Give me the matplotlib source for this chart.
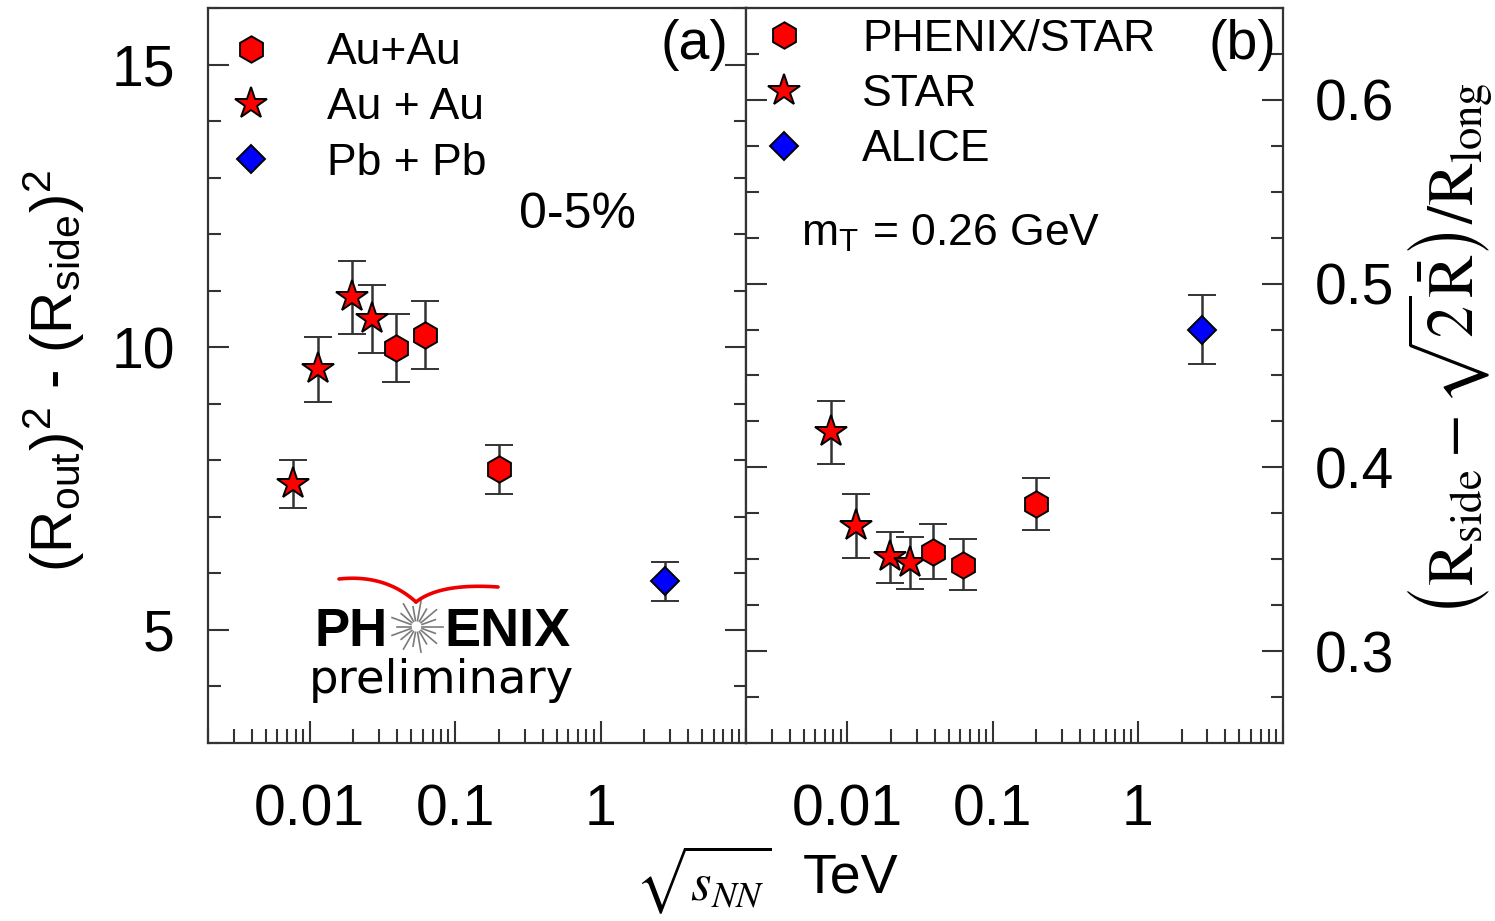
import numpy as np
import matplotlib
matplotlib.use("Agg")
import matplotlib.pyplot as plt
from matplotlib.lines import Line2D
from matplotlib.ticker import FixedLocator, FixedFormatter, NullFormatter, MultipleLocator

plt.rcParams['font.family'] = ['Liberation Sans', 'DejaVu Sans']
plt.rcParams['mathtext.fontset'] = 'custom'
plt.rcParams['mathtext.rm'] = 'STIXGeneral'
plt.rcParams['mathtext.it'] = 'STIXGeneral:italic'
plt.rcParams['mathtext.bf'] = 'STIXGeneral:bold'
plt.rcParams['mathtext.sf'] = 'Liberation Sans'
plt.rcParams['mathtext.fallback'] = 'stix'

# collision energy sqrt(s_NN) in TeV
snn_star = [0.0077, 0.0115, 0.0196, 0.027]
snn_phenix = [0.039, 0.0624, 0.2]
snn_alice = [2.76]

# panel (a): (R_out)^2 - (R_side)^2, 0-5% centrality
a_star = [7.58, 9.61, 10.88, 10.50]
a_star_err = [0.42, 0.57, 0.65, 0.60]
a_phenix = [9.98, 10.21, 7.84]
a_phenix_err = [0.60, 0.60, 0.43]
a_alice = [5.86]
a_alice_err = [0.35]

# panel (b): (R_side - sqrt(2) Rbar) / R_long, m_T = 0.26 GeV
b_star = [0.419, 0.368, 0.351, 0.348]
b_star_err = [0.017, 0.0175, 0.014, 0.014]
b_phenix = [0.354, 0.347, 0.380]
b_phenix_err = [0.015, 0.014, 0.014]
b_alice = [0.475]
b_alice_err = [0.019]

legend_a = ['Au+Au', 'Au + Au', 'Pb + Pb']
legend_b = ['PHENIX/STAR', 'STAR', 'ALICE']

x_major = [0.01, 0.1, 1, 10]
x_major_labels = ['0.01', '0.1', '1', '']

W, H = 1495, 921
fig = plt.figure(figsize=(W / 100, H / 100), dpi=100)


def fpos(px, py):
    return px / W, 1 - py / H


L, R, T, B, MID = 208, 1283, 8, 743, 746
axa = fig.add_axes([L / W, 1 - B / H, (MID - L) / W, (B - T) / H])
axb = fig.add_axes([MID / W, 1 - B / H, (R - MID) / W, (B - T) / H])

EC = '#333333'
hex_kw = dict(fmt='h', ms=19, mfc='#ff0000', mec='black', mew=1.4,
              ecolor=EC, elinewidth=1.8, capsize=10, capthick=1.8)
star_kw = dict(hex_kw, fmt='*', ms=24)
dia_kw = dict(hex_kw, fmt='D', ms=14, mfc='#0000ff')


def draw_panel(ax, star, star_err, phe, phe_err, ali, ali_err):
    ax.errorbar(snn_star, star, yerr=star_err, **star_kw)
    ax.errorbar(snn_phenix, phe, yerr=phe_err, **hex_kw)
    ax.errorbar(snn_alice, ali, yerr=ali_err, **dia_kw)
    ax.set_xscale('log')
    ax.set_xlim(0.002, 10)
    ax.xaxis.set_major_locator(FixedLocator(x_major))
    ax.xaxis.set_major_formatter(FixedFormatter(x_major_labels))
    ax.xaxis.set_minor_locator(FixedLocator(
        [m * 10.0 ** e for e in range(-3, 1) for m in range(2, 10)]))
    ax.xaxis.set_minor_formatter(NullFormatter())
    ax.tick_params(which='both', direction='in', top=False, right=True,
                   left=True, bottom=True, color=EC, width=1.5,
                   labelsize=41)
    ax.tick_params(axis='x', which='major', length=16, pad=29)
    ax.tick_params(axis='x', which='minor', length=10)
    ax.tick_params(axis='y', which='major', length=15)
    ax.tick_params(axis='y', which='minor', length=9)
    for s in ax.spines.values():
        s.set_linewidth(1.6)
        s.set_color(EC)


def legend_handles():
    return [Line2D([], [], ls='none', marker=k['fmt'], ms=k['ms'],
                   mfc=k['mfc'], mec='black', mew=1.4)
            for k in (hex_kw, star_kw, dia_kw)]


draw_panel(axa, a_star, a_star_err, a_phenix, a_phenix_err, a_alice, a_alice_err)
draw_panel(axb, b_star, b_star_err, b_phenix, b_phenix_err, b_alice, b_alice_err)

axa.set_ylim(3, 16)
axa.yaxis.set_major_locator(FixedLocator([5, 10, 15]))
axa.yaxis.set_minor_locator(MultipleLocator(1))
axa.tick_params(axis='y', pad=24)

axb.set_ylim(0.25, 0.65)
axb.yaxis.set_major_locator(FixedLocator([0.3, 0.4, 0.5, 0.6]))
axb.yaxis.set_minor_locator(MultipleLocator(0.025))
axb.tick_params(axis='y', labelleft=False, labelright=True, pad=23)

leg_kw = dict(loc='upper left', frameon=False, fontsize=32, handlelength=1.0,
              borderpad=0, borderaxespad=0, labelspacing=0.32)
axa.legend(legend_handles(), legend_a, bbox_to_anchor=(0.039, 0.967),
           handletextpad=1.2, **leg_kw)
axb.legend(legend_handles(), legend_b, bbox_to_anchor=(0.030, 0.985),
           handletextpad=1.25, **leg_kw)

# panel tags and annotations
axa.text(0.905, 0.950, '(a)', transform=axa.transAxes, ha='center', va='center', fontsize=40)
axb.text(0.925, 0.950, '(b)', transform=axb.transAxes, ha='center', va='center', fontsize=40)
axa.text(0.686, 0.718, '0-5%', transform=axa.transAxes, ha='center', va='center', fontsize=36)
axb.text(0.102, 0.678, r'm$_{\mathsf{T}}$ = 0.26 GeV', transform=axb.transAxes,
         ha='left', va='baseline', fontsize=32)

# axis titles
fig.text(*fpos(54, 371), r'(R$_{\mathsf{out}}$)$^{\mathsf{2}}$ - (R$_{\mathsf{side}}$)$^{\mathsf{2}}$',
         rotation=90, ha='center', va='center', fontsize=42)
fig.text(*fpos(1450, 350),
         r'$\left(\mathrm{R_{side}}-\sqrt{2}\bar{\mathrm{R}}\right)/\mathrm{R_{long}}$',
         rotation=90, ha='center', va='center', fontsize=46)
fig.text(*fpos(703, 880), r'$\sqrt{s_{NN}}$', ha='center', va='center', fontsize=38)
fig.text(*fpos(851, 878), 'TeV', ha='center', va='center', fontsize=40)

# PHENIX preliminary logo
fig.text(*fpos(314, 646), 'PH', ha='left', va='baseline', fontsize=38, fontweight='bold')
fig.text(*fpos(444, 646), 'ENIX', ha='left', va='baseline', fontsize=39, fontweight='bold')
fig.text(*fpos(309, 693), 'preliminary', ha='left', va='baseline', fontsize=33.5,
         family='DejaVu Sans')
cx, cy = 416.5, 626.5
for i, ang in enumerate(np.linspace(0, 2 * np.pi, 18, endpoint=False)):
    r_out = 26 if i % 2 == 0 else 20
    xs = [cx + 6 * np.cos(ang), cx + r_out * np.cos(ang)]
    ys = [cy + 6 * np.sin(ang), cy + r_out * np.sin(ang)]
    fig.add_artist(Line2D([x / W for x in xs], [1 - y / H for y in ys],
                          color='#7a7a7a', lw=1.2))


def bezier(p0, p1, p2, n=40):
    t = np.linspace(0, 1, n)[:, None]
    return (1 - t) ** 2 * np.array(p0) + 2 * (1 - t) * t * np.array(p1) + t ** 2 * np.array(p2)


for seg in (bezier((339, 579), (385, 574), (416, 602)),
            bezier((416, 602), (440, 583), (498, 587))):
    fig.add_artist(Line2D(seg[:, 0] / W, 1 - seg[:, 1] / H, color='#ee0000', lw=2.6,
                          solid_capstyle='round'))

fig.savefig('out.png', dpi=100)
